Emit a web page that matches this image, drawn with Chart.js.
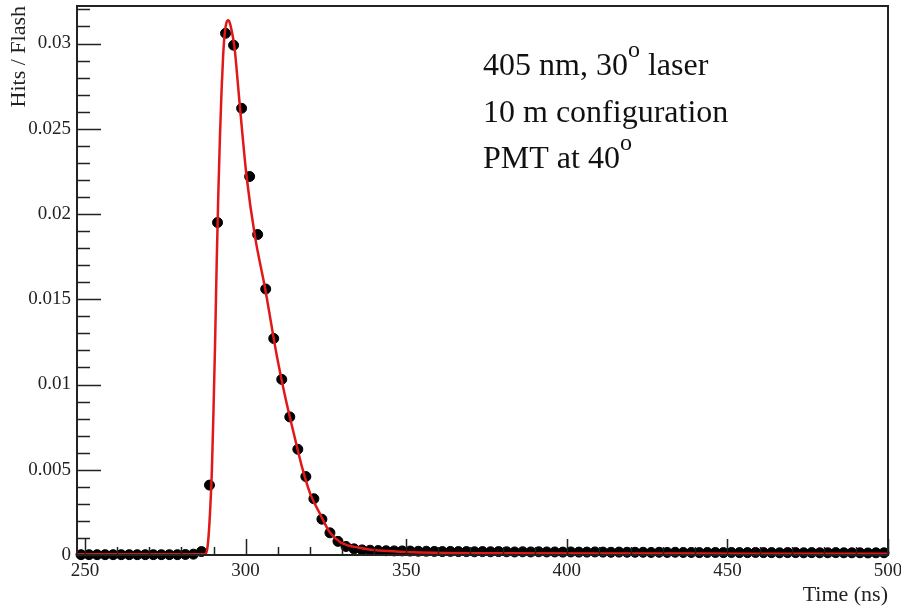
<!DOCTYPE html>
<html>
<head>
<meta charset="utf-8">
<script src="https://cdn.jsdelivr.net/npm/chart.js@4.4.1/dist/chart.umd.min.js"></script>
<style>
  html, body { margin: 0; background: #fff; }
</style>
</head>
<body>
<canvas id="chart" width="901" height="608"></canvas>
<script>
// bin centres (2.5 ns bins from 247.5 to 500)
const binCenters = [
  248.75, 251.25, 253.75, 256.25, 258.75, 261.25, 263.75, 266.25, 268.75, 271.25,
  273.75, 276.25, 278.75, 281.25, 283.75, 286.25, 288.75, 291.25, 293.75, 296.25,
  298.75, 301.25, 303.75, 306.25, 308.75, 311.25, 313.75, 316.25, 318.75, 321.25,
  323.75, 326.25, 328.75, 331.25, 333.75, 336.25, 338.75, 341.25, 343.75, 346.25,
  348.75, 351.25, 353.75, 356.25, 358.75, 361.25, 363.75, 366.25, 368.75, 371.25,
  373.75, 376.25, 378.75, 381.25, 383.75, 386.25, 388.75, 391.25, 393.75, 396.25,
  398.75, 401.25, 403.75, 406.25, 408.75, 411.25, 413.75, 416.25, 418.75, 421.25,
  423.75, 426.25, 428.75, 431.25, 433.75, 436.25, 438.75, 441.25, 443.75, 446.25,
  448.75, 451.25, 453.75, 456.25, 458.75, 461.25, 463.75, 466.25, 468.75, 471.25,
  473.75, 476.25, 478.75, 481.25, 483.75, 486.25, 488.75, 491.25, 493.75, 496.25,
  498.75
];

// measured hits per flash
const hitsPerFlash = [
  0.00002, 0.00002, 0.00002, 0.00002, 0.00002, 0.00002, 0.00002, 0.00002, 0.00002, 0.00002,
  0.00002, 0.00002, 0.00002, 0.00003, 0.00005, 0.0002, 0.0041, 0.0195, 0.0306, 0.0299,
  0.0262, 0.0222, 0.0188, 0.0156, 0.0127, 0.0103, 0.0081, 0.0062, 0.0046, 0.0033,
  0.0021, 0.0013, 0.0008, 0.0005, 0.00036, 0.0003, 0.00028, 0.00026, 0.00025, 0.00024,
  0.00024, 0.00023, 0.00022, 0.00022, 0.00021, 0.0002, 0.00021, 0.0002, 0.0002, 0.00019,
  0.0002, 0.00019, 0.0002, 0.00019, 0.00018, 0.00019, 0.00018, 0.00019, 0.00018, 0.00018,
  0.00017, 0.00018, 0.00017, 0.00017, 0.00018, 0.00017, 0.00016, 0.00017, 0.00016, 0.00016,
  0.00016, 0.00015, 0.00016, 0.00015, 0.00016, 0.00015, 0.00015, 0.00014, 0.00015, 0.00015,
  0.00014, 0.00015, 0.00014, 0.00014, 0.00015, 0.00014, 0.00014, 0.00013, 0.00014, 0.00014,
  0.00013, 0.00014, 0.00013, 0.00013, 0.00014, 0.00013, 0.00013, 0.00013, 0.00012, 0.00013,
  0.00013
];

// fitted curve
const fitTime = [
  247.5, 260, 270, 280, 285, 287.5, 288.0, 288.5, 289.0, 289.5,
  290.0, 290.5, 291.0, 291.5, 292.0, 292.5, 293.0, 293.5, 294.0, 294.6,
  295.1, 295.6, 296.2, 296.7, 297.7, 298.75, 300.3, 302.9, 306.0, 309.7,
  312.3, 314.9, 317.5, 320.1, 323.2, 326.3, 329.5, 332.0, 334.7, 338.0,
  343.0, 350.0, 358.5, 380.0, 420.0, 460.0, 500.0
];
const fitValue = [
  0.00005, 0.00005, 0.00005, 0.00005, 0.00005, 0.00006, 0.0003, 0.0012, 0.0028, 0.005,
  0.0085, 0.0125, 0.0172, 0.0212, 0.0245, 0.0272, 0.0293, 0.0306, 0.0312, 0.03136,
  0.0312, 0.0308, 0.0302, 0.0295, 0.0274, 0.0252, 0.0222, 0.0187, 0.0157, 0.0117,
  0.0093, 0.0072, 0.0052, 0.0036, 0.0024, 0.0013, 0.00075, 0.00055, 0.00045, 0.00034,
  0.00025, 0.00018, 0.00013, 0.0001, 0.00009, 0.00008, 0.00008
];

const xTicks = [250, 300, 350, 400, 450, 500];
const yTicks = [0, 0.005, 0.01, 0.015, 0.02, 0.025, 0.03];
const xMinorStep = 10;
const yMinorStep = 0.001;

const infoLines = [
  ['405 nm, 30', 'o', ' laser'],
  ['10 m configuration'],
  ['PMT at 40', 'o']
];

const serif = '"Liberation Serif", "DejaVu Serif", serif';
const ink = '#222';

// frame, inward ticks and the text box
const rootStyle = {
  id: 'rootStyle',
  afterDraw(chart) {
    const { ctx, chartArea: a, scales: { x, y } } = chart;
    ctx.save();
    ctx.strokeStyle = ink;
    ctx.lineWidth = 1.5;
    ctx.beginPath();
    // x ticks (major + minor)
    for (let v = xTicks[0]; v <= x.max + 1e-6; v += xMinorStep) {
      const px = Math.round(x.getPixelForValue(v)) + 0.5;
      const len = xTicks.includes(v) ? 16 : 8;
      ctx.moveTo(px, a.bottom);
      ctx.lineTo(px, a.bottom - len);
    }
    // y ticks
    for (let i = 0; i * yMinorStep <= y.max + 1e-9; i++) {
      const v = i * yMinorStep;
      const py = Math.round(y.getPixelForValue(v)) + 0.5;
      const len = i % 5 === 0 ? 24 : 13;
      ctx.moveTo(a.left, py);
      ctx.lineTo(a.left + len, py);
    }
    ctx.stroke();
    ctx.lineWidth = 2;
    ctx.strokeRect(a.left, a.top, a.right - a.left, a.bottom - a.top);

    // annotation
    ctx.fillStyle = '#111';
    ctx.textBaseline = 'alphabetic';
    const x0 = 483, baselines = [75, 121.5, 168];
    infoLines.forEach((parts, i) => {
      let cx = x0;
      parts.forEach((p, j) => {
        if (p === 'o' && j > 0) {
          ctx.font = '24px ' + serif;
          ctx.fillText(p, cx, baselines[i] - 18);
          cx += ctx.measureText(p).width;
        } else {
          ctx.font = '32px ' + serif;
          ctx.fillText(p, cx, baselines[i]);
          cx += ctx.measureText(p).width;
        }
      });
    });
    ctx.restore();
  }
};

const noPad = s => { s.paddingTop = 0; s.paddingBottom = 0; s.paddingLeft = 0; s.paddingRight = 0; };

new Chart(document.getElementById('chart'), {
  type: 'scatter',
  data: {
    datasets: [
      {
        type: 'line',
        label: 'fit',
        data: fitTime.map((t, i) => ({ x: t, y: fitValue[i] })),
        borderColor: '#e01818',
        borderWidth: 2.5,
        pointRadius: 0,
        cubicInterpolationMode: 'monotone',
        fill: false,
        order: 0
      },
      {
        label: 'data',
        data: binCenters.map((t, i) => ({ x: t, y: hitsPerFlash[i] })),
        backgroundColor: '#000',
        borderColor: '#000',
        pointRadius: 5,
        pointHoverRadius: 5,
        clip: false,
        order: 1
      }
    ]
  },
  options: {
    responsive: false,
    animation: false,
    events: [],
    layout: { padding: { top: 6, right: 13, left: 0, bottom: 0 } },
    plugins: { legend: { display: false }, tooltip: { enabled: false } },
    scales: {
      x: {
        type: 'linear',
        min: 247.5,
        max: 500,
        afterFit: s => { s.height = 53; noPad(s); },
        afterBuildTicks: s => { s.ticks = xTicks.map(v => ({ value: v })); },
        grid: { display: false, drawTicks: false, tickLength: 0 },
        border: { display: false },
        ticks: {
          padding: 5,
          color: ink,
          maxRotation: 0,
          font: { family: serif, size: 19 },
          callback: v => String(v)
        },
        title: {
          display: true,
          text: 'Time (ns)',
          align: 'end',
          color: ink,
          padding: 0,
          font: { family: serif, size: 22 }
        }
      },
      y: {
        type: 'linear',
        min: 0,
        max: 0.0322,
        afterFit: s => { s.width = 77; noPad(s); },
        afterBuildTicks: s => { s.ticks = yTicks.map(v => ({ value: v })); },
        grid: { display: false, drawTicks: false, tickLength: 0 },
        border: { display: false },
        ticks: {
          padding: 6,
          color: ink,
          font: { family: serif, size: 19 },
          callback: v => String(+v.toFixed(4))
        },
        title: {
          display: true,
          text: 'Hits / Flash',
          align: 'end',
          color: ink,
          padding: { top: 6, bottom: 0 },
          font: { family: serif, size: 22 }
        }
      }
    }
  },
  plugins: [rootStyle]
});
</script>
</body>
</html>
